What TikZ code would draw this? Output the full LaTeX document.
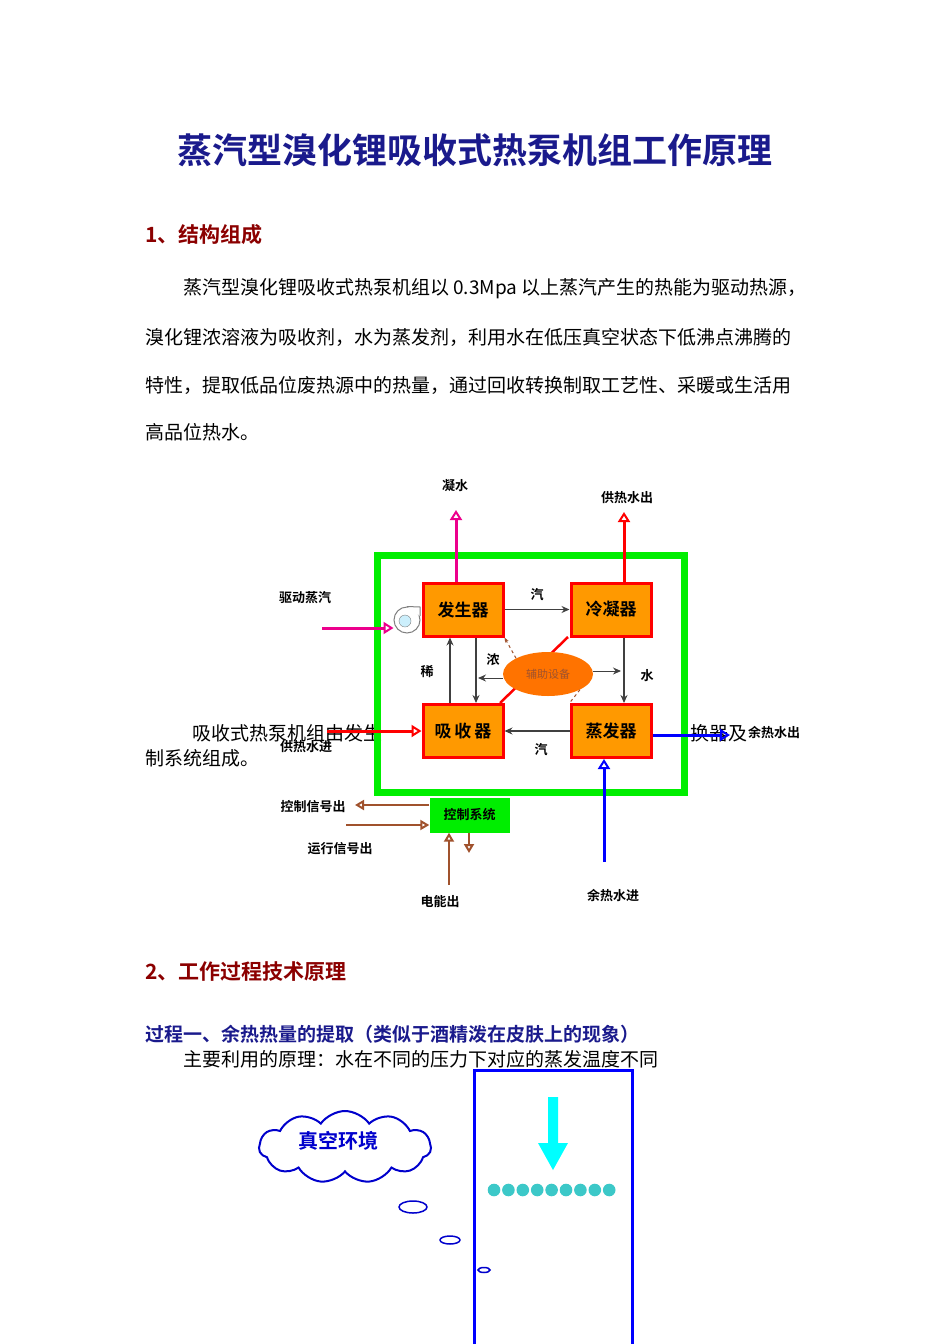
\documentclass[tikz,border=0pt]{standalone}
\usepackage{fontspec}
\setmainfont{Noto Sans CJK SC}
\newfontfamily\cjkb{Noto Sans CJK SC Bold}
\usetikzlibrary{arrows.meta,shapes.symbols,shapes.geometric}
\definecolor{navy}{HTML}{1A1A8C}
\definecolor{dred}{HTML}{8B0000}
\definecolor{org}{HTML}{FF9900}
\definecolor{brn}{HTML}{A0522D}
\definecolor{gr}{HTML}{00EE00}
\definecolor{dotc}{HTML}{3CC8C8}
\definecolor{cy}{HTML}{00FFFF}
\tikzset{
 body/.style={font=\fontsize{19}{20}\selectfont,anchor=west,inner sep=0},
 unit/.style={draw=red,line width=3pt,fill=org,minimum width=80,minimum height=53,font=\cjkb\fontsize{17}{18}\selectfont},
 lbl/.style={font=\cjkb\fontsize{13}{14}\selectfont,inner sep=0},
 blk/.style={-{Stealth[length=8pt,width=7pt]},line width=1.2pt,draw=black!75},
 fat/.style={-{Triangle[open,length=10pt,width=12pt,line width=2pt]},line width=3pt},
 bro/.style={-{Triangle[open,length=9pt,width=10pt,line width=2pt]},line width=2.5pt,draw=brn}
}
\begin{document}
\begin{tikzpicture}[x=1pt,y=-1pt]
\useasboundingbox (0,0) rectangle (950,1344);
\node[font=\cjkb\fontsize{35}{37}\selectfont,text=navy] (title) at (475,150) {蒸汽型溴化锂吸收式热泵机组工作原理};
\node[font=\cjkb\fontsize{21}{22}\selectfont,text=dred,anchor=west,inner sep=0] (h1) at (145,235) {1、结构组成};
\node[body] (p1) at (183,289) {蒸汽型溴化锂吸收式热泵机组以 0.3Mpa 以上蒸汽产生的热能为驱动热源，};
\node[body] (p2) at (145,337) {溴化锂浓溶液为吸收剂，水为蒸发剂，利用水在低压真空状态下低沸点沸腾的};
\node[body] (p3) at (145,385) {特性，提取低品位废热源中的热量，通过回收转换制取工艺性、采暖或生活用};
\node[body] (p4) at (145,432) {高品位热水。};
% overlapped paragraph fragments
\node[body] (q1) at (192,733) {吸收式热泵机组由发生};
\node[body] (q2) at (145,758) {制系统组成。};
\node[body] (q3) at (690,733) {换器及};
% frame
\draw[gr,line width=7pt] (377.5,555.5) rectangle (684.5,792);
% units
\node[unit] (gen) at (463,609.5) {发生器};
\node[unit] (con) at (611,609.5) {冷凝器};
\node[unit] (abs) at (463,731) {吸\,收\,器};
\node[unit] (eva) at (611,731) {蒸发器};
% aux
\coordinate (rA) at (500,703);
\coordinate (rB) at (568,637);
\draw[red,line width=2.5pt] (rA) -- (rB);
\node[ellipse,fill=orange!90!red,minimum width=90,minimum height=44,inner sep=0,font=\fontsize{11}{12}\selectfont,text=brn] (aux) at (548,674) {辅助设备};
\draw[blk,line width=1pt] (aux.west|-0,678) -- (478,678);
\draw[blk,line width=1pt] (aux.east|-0,671) -- (621,671);
\draw[brn,dashed,line width=1pt,-{Stealth[length=5pt]}] (aux.north west) -- (gen.south east);
\draw[brn,dashed,line width=1pt] (aux.south east) -- (eva.north west);
% internal flows
\draw[blk] (gen.east) -- (con.west) node[midway,above=8pt,lbl] (l1) {汽};
\draw[blk] (con.south-|624,0) -- (eva.north-|624,0);
\node[lbl] (l2) at (647,676) {水};
\draw[blk] (abs.north-|450,0) -- (gen.south-|450,0);
\node[lbl] (l3) at (427,672) {稀};
\draw[blk] (gen.south-|476,0) -- (abs.north-|476,0);
\node[lbl] (l4) at (493,660) {浓};
\draw[blk] (eva.west) -- (abs.east);
\node[lbl] (l5) at (541,750) {汽};
% external
\node[lbl] (t1) at (455,486) {凝水};
\draw[magenta,fat] (gen.north-|456,0) -- (456,510);
\node[lbl] (t2) at (627,498) {供热水出};
\draw[red,fat] (con.north-|624,0) -- (624,512);
\node[lbl] (t3) at (305,598) {驱动蒸汽};
\node[circle,draw=gray,fill=white,line width=1pt,minimum size=26] (fan) at (407,620) {};
\draw[gray,line width=1pt,fill=white] (fan.north) -- (420,607) -- (420,616);
\node[circle,draw=gray,fill=cyan!20,minimum size=12] (fanc) at (405,621) {};
\coordinate (s0) at (322,628);
\draw[magenta,fat] (s0) -- (fan.west|-0,628);
\coordinate (hw) at (327,731);
\draw[red,fat] (hw) -- (abs.west);
\node[lbl] (t4) at (306,747) {供热水进};
\coordinate (bo) at (730,735);
\draw[blue,fat] (eva.east|-0,735) -- (bo);
\node[lbl,anchor=west] (t5) at (748,733) {余热水出};
\coordinate (bi) at (604,862);
\draw[blue,fat] (bi) -- (eva.south-|604,0);
\node[lbl] (t6) at (613,896) {余热水进};
% control
\node[fill=gr,minimum width=80,minimum height=35,lbl,inner sep=0] (ctl) at (469.5,815) {控制系统};
\coordinate (c1) at (355,805);
\draw[bro] (ctl.west|-0,805) -- (c1);
\node[lbl] (t7) at (313,807) {控制信号出};
\coordinate (c2) at (346,825);
\draw[bro] (c2) -- (ctl.west|-0,825);
\node[lbl] (t8) at (340,849) {运行信号出};
\coordinate (c3) at (449,885);
\draw[bro] (c3) -- (ctl.south-|449,0);
\node[lbl] (t9) at (440,902) {电能出};
\coordinate (c4) at (469,853);
\draw[bro,line width=2pt] (ctl.south-|469,0) -- (c4);
% section 2
\node[font=\cjkb\fontsize{21}{22}\selectfont,text=dred,anchor=west,inner sep=0] (h2) at (145,972) {2、工作过程技术原理};
\node[font=\cjkb\fontsize{19}{20}\selectfont,text=navy,anchor=west,inner sep=0] (h3) at (145,1034) {过程一、余热热量的提取（类似于酒精泼在皮肤上的现象）};
\node[body] (p5) at (183,1059) {主要利用的原理：水在不同的压力下对应的蒸发温度不同};
\draw[blue,line width=3pt] (632,1400) -- (632,1070) -- (474,1070) -- (474,1400);
\fill[cy] (548,1097) rectangle (558,1143) (538,1143) -- (568,1143) -- (553,1170) -- cycle;
\foreach \i in {0,...,8} \fill[dotc] (494+\i*14.4,1190) circle (6.3);
\node[cloud,cloud puffs=11,cloud puff arc=110,aspect=2.4,draw=blue!80!black,line width=2pt,minimum width=172,minimum height=72,font=\cjkb\fontsize{20}{22}\selectfont,text=blue!80!black] (cl) at (345,1147) {};
\node[font=\cjkb\fontsize{20}{22}\selectfont,text=blue!80!black] (clt) at (338,1141) {真空环境};
\draw[blue!80!black,line width=1.5pt] (413,1207) ellipse (14 and 6) (450,1240) ellipse (10 and 4) (484,1270) ellipse (6 and 2.5);
\end{tikzpicture}
\end{document}
